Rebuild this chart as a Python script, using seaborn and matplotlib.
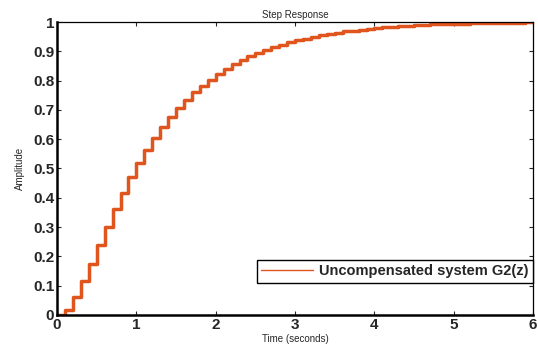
import numpy as np
import pandas as pd
import seaborn as sns
import matplotlib.pyplot as plt

# sample times (Ts = 0.1 s) and step response values
time_s = [round(0.1 * i, 1) for i in range(61)]
amplitude = [
    0.000, 0.018, 0.060, 0.115, 0.175, 0.237, 0.300, 0.360, 0.417, 0.470,
    0.519, 0.564, 0.604, 0.642, 0.676, 0.706, 0.735, 0.760, 0.783, 0.803,
    0.823, 0.840, 0.856, 0.870, 0.883, 0.894, 0.905, 0.914, 0.923, 0.931,
    0.938, 0.944, 0.950, 0.955, 0.960, 0.964, 0.968, 0.971, 0.974, 0.977,
    0.980, 0.982, 0.984, 0.986, 0.988, 0.989, 0.990, 0.992, 0.993, 0.994,
    0.994, 0.995, 0.996, 0.996, 0.997, 0.997, 0.998, 0.998, 0.998, 0.999,
    0.999,
]
series_label = "Uncompensated system G2(z)"
x_ticks = [0, 1, 2, 3, 4, 5, 6]
y_ticks = [0, 0.1, 0.2, 0.3, 0.4, 0.5, 0.6, 0.7, 0.8, 0.9, 1]

df = pd.DataFrame({"Time": time_s, "Amplitude": amplitude})

sns.set_style("ticks")
plt.rcParams['font.family'] = ['Liberation Sans', 'DejaVu Sans']

fig = plt.figure(figsize=(5.38, 3.51), dpi=100)
ax = fig.add_axes([0.106, 0.103, 0.885, 0.834])

sns.lineplot(data=df, x="Time", y="Amplitude", ax=ax, color="#E0541E",
             linewidth=2.5, drawstyle="steps-post", label=series_label)

ax.set_xlim(0, 6)
ax.set_ylim(0, 1)
ax.set_xticks(x_ticks)
ax.set_yticks(y_ticks)
ax.set_xticklabels([str(t) for t in x_ticks], fontsize=11, fontweight="bold")
ax.set_yticklabels([f"{t:g}" for t in y_ticks], fontsize=11, fontweight="bold")
ax.tick_params(direction="in", length=3, width=0.8, top=True, right=True, pad=2)
for s in ax.spines.values():
    s.set_visible(True)
    s.set_color("black")
    s.set_linewidth(0.9)
ax.spines["bottom"].set_linewidth(1.8)
ax.spines["left"].set_linewidth(1.8)

ax.set_title("Step Response", fontsize=7, pad=3)
ax.set_xlabel("Time (seconds)", fontsize=7, labelpad=2)
ax.set_ylabel("Amplitude", fontsize=7, labelpad=6)

leg = ax.legend(loc="lower right", bbox_to_anchor=(1.0, 0.11),
                prop={"weight": "bold", "size": 10.5}, fancybox=False,
                framealpha=1, edgecolor="black", borderpad=0.3,
                borderaxespad=0.0, handlelength=3.6, handletextpad=0.4)
leg.get_frame().set_linewidth(1.0)
for h in leg.get_lines():
    h.set_linewidth(1.0)

fig.savefig("out.png", dpi=100)
